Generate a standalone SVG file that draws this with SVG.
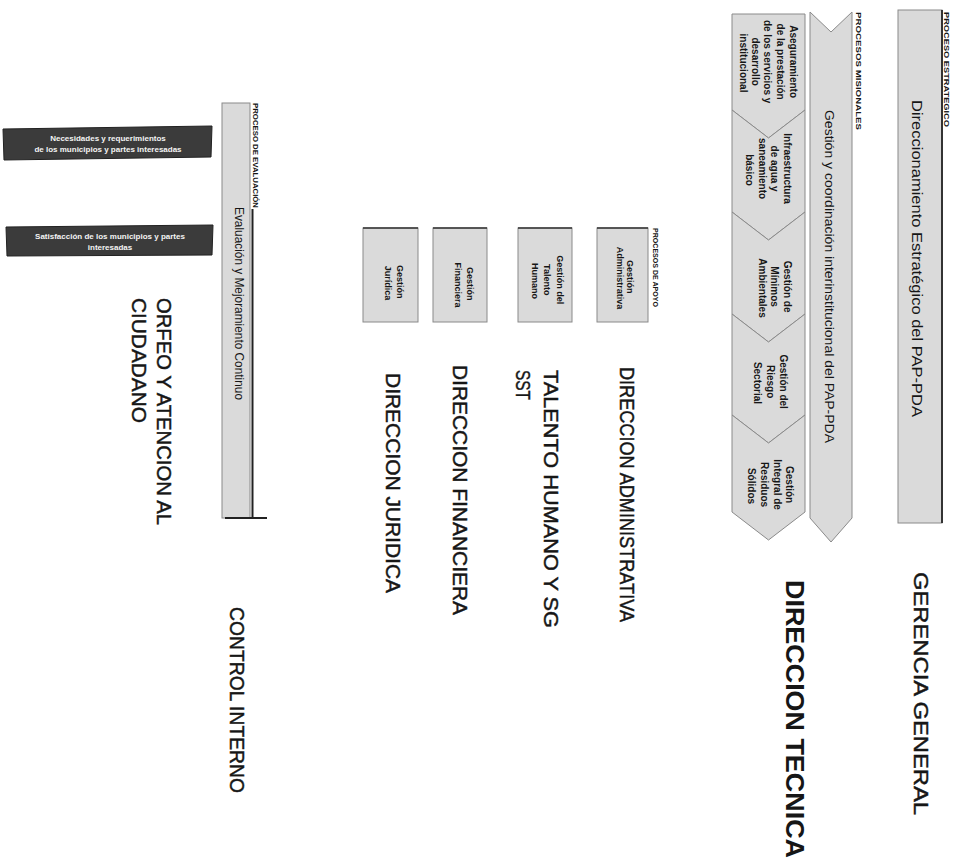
<svg xmlns="http://www.w3.org/2000/svg" width="959" height="862" viewBox="0 0 959 862">
<style>
.t{font-family:"Liberation Sans",Arial,sans-serif;fill:#161616}
.big{font-size:20px;stroke:#161616;stroke-width:0.45}
.lbl{font-size:7.5px;font-weight:bold}
.ch{font-size:10px;text-anchor:middle;font-weight:bold}
.sm{font-size:9px;text-anchor:middle;font-weight:bold}
.band{fill:#dadada;stroke:#8a8a8a;stroke-width:1}
.dark{fill:#3b3b3b;stroke:#222;stroke-width:1}
.wt{font-family:"Liberation Sans",Arial,sans-serif;fill:#f4f4f4;font-size:8px;font-weight:bold;text-anchor:middle}
.ln{stroke:#222;stroke-width:2;fill:none}
</style>
<rect width="959" height="862" fill="#ffffff"/>

<g id="estrategico">
  <rect class="band" x="898" y="10" width="44" height="513"/>
  <line x1="942" y1="10" x2="942" y2="523" stroke="#333" stroke-width="2"/>
  <text class="t lbl" transform="rotate(90)" x="12" y="-944" textLength="115" lengthAdjust="spacingAndGlyphs">PROCESO ESTRATEGICO</text>
  <text class="t" transform="rotate(90)" x="100" y="-912" font-size="14" textLength="317" lengthAdjust="spacingAndGlyphs">Direccionamiento Estratégico del PAP-PDA</text>
</g>

<g id="gerencia-general">
  <text class="t big" transform="rotate(90)" x="572" y="-914" font-size="25" textLength="243" lengthAdjust="spacingAndGlyphs">GERENCIA GENERAL</text>
</g>

<g id="misionales">
  <text class="t lbl" transform="rotate(90)" x="12" y="-856" textLength="118" lengthAdjust="spacingAndGlyphs">PROCESOS MISIONALES</text>
  <polygon class="band" points="810,12 831,32 852,12 852,518 831,542 810,518"/>
  <text class="t" transform="rotate(90)" x="110" y="-825" font-size="13" textLength="333" lengthAdjust="spacingAndGlyphs">Gestión y coordinación interinstitucional del PAP-PDA</text>
</g>

<g id="aseguramiento">
  <polygon class="band" points="732,14 805,14 805,110 768.5,138 732,110"/>
  <text class="t ch" transform="rotate(90)">
    <tspan x="63" y="-789.5">Aseguramiento</tspan>
    <tspan x="63" y="-776.5">de la prestación</tspan>
    <tspan x="63" y="-763.5">de los servicios y</tspan>
    <tspan x="63" y="-751.5">desarrollo</tspan>
    <tspan x="63" y="-739.5">institucional</tspan>
  </text>
</g>

<g id="infraestructura">
  <polygon class="band" points="732,110 768.5,138 805,110 805,212 768.5,240 732,212"/>
  <text class="t ch" transform="rotate(90)">
    <tspan x="170" y="-783.5">Infraestructura</tspan>
    <tspan x="170" y="-771">de agua y</tspan>
    <tspan x="170" y="-758.5">saneamiento</tspan>
    <tspan x="170" y="-746">básico</tspan>
  </text>
</g>

<g id="minimos">
  <polygon class="band" points="732,212 768.5,240 805,212 805,314 768.5,342 732,314"/>
  <text class="t ch" transform="rotate(90)">
    <tspan x="288" y="-783.5">Gestión de</tspan>
    <tspan x="288" y="-771">Mínimos</tspan>
    <tspan x="288" y="-758.5">Ambientales</tspan>
  </text>
</g>

<g id="riesgo">
  <polygon class="band" points="732,314 768.5,342 805,314 805,415 768.5,443 732,415"/>
  <text class="t ch" transform="rotate(90)">
    <tspan x="383" y="-779.5">Gestión del</tspan>
    <tspan x="383" y="-766.5">Riesgo</tspan>
    <tspan x="383" y="-753.5">Sectorial</tspan>
  </text>
</g>

<g id="residuos">
  <polygon class="band" points="732,415 768.5,443 805,415 805,512 768.5,540 732,512"/>
  <text class="t ch" transform="rotate(90)">
    <tspan x="486" y="-785.5">Gestión</tspan>
    <tspan x="486" y="-773.5">Integral de</tspan>
    <tspan x="486" y="-760.5">Residuos</tspan>
    <tspan x="486" y="-747.5">Sólidos</tspan>
  </text>
</g>

<g id="direccion-tecnica">
  <text class="t" transform="rotate(90)" x="580" y="-786" font-size="25" font-weight="bold" textLength="278" lengthAdjust="spacingAndGlyphs">DIRECCION TECNICA</text>
</g>

<g id="apoyo">
  <text class="t lbl" transform="rotate(90)" x="228" y="-653" textLength="79" lengthAdjust="spacingAndGlyphs">PROCESOS DE APOYO</text>
</g>

<g id="gestion-administrativa">
  <rect class="band" x="597" y="228" width="51" height="94"/>
  <line x1="597" y1="228" x2="648" y2="228" stroke="#333" stroke-width="1.5"/>
  <text class="t sm" transform="rotate(90)">
    <tspan x="278" y="-626.5">Gestión</tspan>
    <tspan x="278" y="-616.5">Administrativa</tspan>
  </text>
</g>

<g id="gestion-talento">
  <rect class="band" x="518" y="228" width="54" height="94"/>
  <line x1="518" y1="228" x2="572" y2="228" stroke="#333" stroke-width="1.5"/>
  <text class="t sm" transform="rotate(90)">
    <tspan x="281" y="-557">Gestión del</tspan>
    <tspan x="281" y="-544">Talento</tspan>
    <tspan x="281" y="-532">Humano</tspan>
  </text>
</g>

<g id="gestion-financiera">
  <rect class="band" x="433" y="228" width="54" height="94"/>
  <line x1="433" y1="228" x2="487" y2="228" stroke="#333" stroke-width="1.5"/>
  <text class="t sm" transform="rotate(90)">
    <tspan x="285" y="-466.5">Gestión</tspan>
    <tspan x="285" y="-454.5">Financiera</tspan>
  </text>
</g>

<g id="gestion-juridica">
  <rect class="band" x="363" y="228" width="55" height="94"/>
  <line x1="363" y1="228" x2="418" y2="228" stroke="#333" stroke-width="1.5"/>
  <text class="t sm" transform="rotate(90)">
    <tspan x="283" y="-396.5">Gestión</tspan>
    <tspan x="283" y="-384.5">Jurídica</tspan>
  </text>
</g>

<g id="direccion-administrativa">
  <text class="t big" transform="rotate(90)" x="367" y="-620" textLength="255" lengthAdjust="spacingAndGlyphs">DIRECCION ADMINISTRATIVA</text>
</g>

<g id="talento-humano">
  <text class="t big" transform="rotate(90)" x="370" y="-544" textLength="258" lengthAdjust="spacingAndGlyphs">TALENTO HUMANO Y SG</text>
  <text class="t big" transform="rotate(90)" x="370" y="-516" textLength="30" lengthAdjust="spacingAndGlyphs">SST</text>
</g>

<g id="direccion-financiera">
  <text class="t big" transform="rotate(90)" x="365" y="-453" textLength="250" lengthAdjust="spacingAndGlyphs">DIRECCION FINANCIERA</text>
</g>

<g id="direccion-juridica">
  <text class="t big" transform="rotate(90)" x="373" y="-386" textLength="220" lengthAdjust="spacingAndGlyphs">DIRECCION JURIDICA</text>
</g>

<g id="evaluacion">
  <rect class="band" x="222" y="103" width="28" height="415"/>
  <text class="t lbl" transform="rotate(90)" x="103" y="-253" textLength="105" lengthAdjust="spacingAndGlyphs">PROCESO DE EVALUACIÓN</text>
  <text class="t" transform="rotate(90)" x="207" y="-235" font-size="12" textLength="193" lengthAdjust="spacingAndGlyphs">Evaluación y Mejoramiento Continuo</text>
</g>

<g id="control-interno">
  <text class="t big" transform="rotate(90)" x="607" y="-230" textLength="186" lengthAdjust="spacingAndGlyphs">CONTROL INTERNO</text>
</g>

<g id="orfeo">
  <text class="t big" transform="rotate(90)" x="298" y="-157" textLength="227" lengthAdjust="spacingAndGlyphs">ORFEO Y ATENCION AL</text>
  <text class="t big" transform="rotate(90)" x="298" y="-132" textLength="125" lengthAdjust="spacingAndGlyphs">CIUDADANO</text>
</g>

<g id="necesidades">
  <polygon class="dark" points="3,129 212,126 211,157 4,160"/>
  <text class="wt"><tspan x="108" y="141">Necesidades y requerimientos</tspan><tspan x="108" y="152">de los municipios y partes interesadas</tspan></text>
</g>

<g id="satisfaccion">
  <polygon class="dark" points="6,227 213,225 212,255 7,256"/>
  <text class="wt"><tspan x="110" y="239">Satisfacción de los municipios y partes</tspan><tspan x="110" y="250">interesadas</tspan></text>
</g>

<g id="connectors">
  <line class="ln" x1="252.5" y1="209" x2="252.5" y2="518"/>
  <line class="ln" x1="225" y1="518" x2="267" y2="518"/>
</g>
</svg>
